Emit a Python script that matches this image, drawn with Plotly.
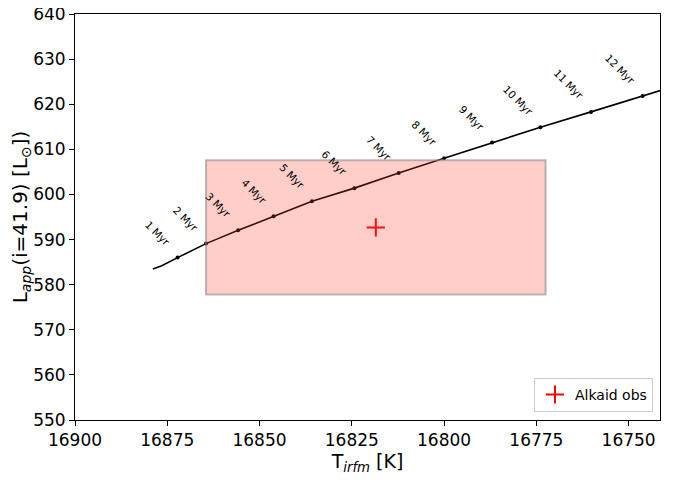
import plotly.graph_objects as go

# Track points (age labels)
ages = ["1 Myr", "2 Myr", "3 Myr", "4 Myr", "5 Myr", "6 Myr",
        "7 Myr", "8 Myr", "9 Myr", "10 Myr", "11 Myr", "12 Myr"]
age_T = [16872.2, 16864.5, 16855.8, 16846.2, 16835.8, 16824.3,
         16812.3, 16800.0, 16787.0, 16773.9, 16760.2, 16746.2]
age_L = [586.0, 589.1, 592.05, 595.15, 598.5, 601.4,
         604.75, 608.0, 611.5, 614.9, 618.3, 621.8]

# Full track (start, the age points, continuation past the axis)
track_T = [16878.9, 16876.5] + age_T + [16732.0]
track_L = [583.5, 584.2] + age_L + [625.4]

# Observation
obs_T = [16818.5]
obs_L = [592.7]
obs_T_err = 46.0
obs_L_err = 14.9

x_ticks = [16900, 16875, 16850, 16825, 16800, 16775, 16750]
y_ticks = [550, 560, 570, 580, 590, 600, 610, 620, 630, 640]

fig = go.Figure()

fig.add_trace(go.Scatter(x=track_T, y=track_L, mode="lines",
                         line=dict(color="black", width=1.6),
                         showlegend=False, hoverinfo="skip"))
fig.add_trace(go.Scatter(x=age_T, y=age_L, mode="markers",
                         marker=dict(color="black", size=4),
                         showlegend=False))
fig.add_trace(go.Scatter(x=obs_T, y=obs_L, mode="markers", name="Alkaid obs",
                         marker=dict(symbol="cross-thin", size=13,
                                     line=dict(color="red", width=2), color="red")))

fig.add_shape(type="rect", xref="x", yref="y",
              x0=obs_T[0] + obs_T_err, x1=obs_T[0] - obs_T_err,
              y0=obs_L[0] - obs_L_err, y1=obs_L[0] + obs_L_err,
              fillcolor="rgba(255,60,40,0.25)",
              line=dict(color="rgba(140,140,140,0.6)", width=2),
              layer="above")

for t, T, L in zip(ages, age_T, age_L):
    n = len(t)
    dx = -8 - 2.4 * n
    dy = 13 + 2.4 * n
    fig.add_annotation(x=T, y=L, text=t, showarrow=False, textangle=45,
                       xshift=dx, yshift=dy, xanchor="center", yanchor="middle",
                       font=dict(family="DejaVu Sans", size=10.5, color="black"))

fig.update_xaxes(range=[16900, 16741.5], tickmode="array",
                 tickvals=x_ticks, ticktext=[str(v) for v in x_ticks],
                 ticks="outside", ticklen=5, tickcolor="black", automargin=False,
                 ticklabeloverflow="allow",
                 showline=True, linecolor="black", linewidth=1, mirror=True,
                 showgrid=False, zeroline=False,
                 tickfont=dict(family="DejaVu Sans", size=17, color="black"),
                 title=dict(text="T<sub><i>irfm</i></sub> [K]",
                            font=dict(family="DejaVu Sans", size=19, color="black"),
                            standoff=4))
fig.update_yaxes(range=[550, 640], tickmode="array",
                 tickvals=y_ticks, ticktext=[str(v) for v in y_ticks],
                 ticks="outside", ticklen=5, tickcolor="black", automargin=False,
                 ticklabeloverflow="allow",
                 showline=True, linecolor="black", linewidth=1, mirror=True,
                 showgrid=False, zeroline=False,
                 tickfont=dict(family="DejaVu Sans", size=17, color="black"),
                 title=dict(text="L<sub><i>app</i></sub>(i=41.9) [L<sub>⊙</sub>])",
                            font=dict(family="DejaVu Sans", size=20, color="black"),
                            standoff=3))

fig.update_layout(width=683, height=482,
                  margin=dict(l=67, r=31, t=6, b=70),
                  plot_bgcolor="white", paper_bgcolor="white",
                  legend=dict(x=0.988, y=0.02, xanchor="right", yanchor="bottom",
                              bordercolor="#cccccc", borderwidth=1,
                              bgcolor="white",
                              font=dict(family="DejaVu Sans", size=14, color="black")))

fig.write_html("out.html")
